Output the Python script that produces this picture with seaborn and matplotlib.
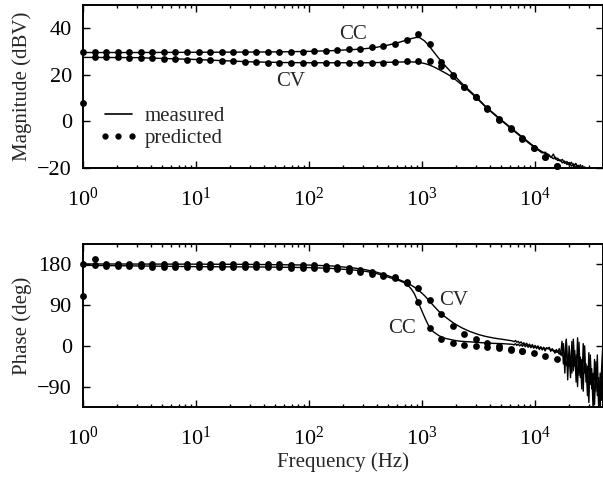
import numpy as np
import matplotlib
matplotlib.use('Agg')
import matplotlib.pyplot as plt
import seaborn as sns
from matplotlib.lines import Line2D

# Style: MATLAB-like bode plot look
sns.set_theme(style='ticks')
plt.rcParams['font.family'] = ['Liberation Serif', 'DejaVu Serif']
plt.rcParams['mathtext.fontset'] = 'custom'
plt.rcParams['mathtext.rm'] = 'Liberation Serif'
plt.rcParams['mathtext.it'] = 'Liberation Serif:italic'
plt.rcParams['font.size'] = 15

# ---- predicted (dots), common frequency grid in Hz ----
pred_freq = [1, 1.265, 1.601, 2.026, 2.564, 3.244, 4.105, 5.195, 6.574, 8.318,
             10.53, 13.32, 16.86, 21.33, 26.99, 34.15, 43.22, 54.69, 69.18, 87.55,
             110.8, 140.2, 177.4, 224.5, 284.1, 359.4, 454.9, 575.4, 728.3, 921.5,
             1166, 1476, 1867, 2362, 2989, 3783, 4786, 6057, 7664, 9698,
             12270, 15530, 19650, 24870, 31470, 39810]

mag_cc_pred = [29.7, 29.7, 29.7, 29.7, 29.7, 29.7, 29.7, 29.7, 29.7, 29.7,
               29.7, 29.7, 29.8, 29.8, 29.9, 29.9, 29.95, 29.95, 30.0, 30.0,
               30.2, 30.3, 30.6, 30.9, 31.2, 31.8, 32.4, 33.2, 35.0, 37.4,
               33.1, 25.7, 19.9, 14.9, 10.6, 5.6, 1.1, -2.9, -7.2, -11.2,
               -15.1, -19.0]
mag_cv_pred = [8.0, 27.5, 27.5, 27.5, 27.4, 27.3, 27.2, 27.0, 26.8, 26.6,
               26.4, 26.2, 26.0, 25.8, 25.6, 25.4, 25.3, 25.2, 25.2, 25.2,
               25.2, 25.2, 25.2, 25.2, 25.2, 25.2, 25.3, 25.5, 25.8, 26.1,
               26.1, 23.9, 19.6, 14.6, 10.3, 5.3, 0.8, -3.2, -7.5, -11.5,
               -15.4, -19.3]

ph_cc_pred = [180, 179, 177, 176.5, 176, 175.5, 175, 175, 174.5, 174.5,
              174.5, 174, 174, 174, 174, 174, 173.5, 173.5, 173, 172.5,
              172, 170.5, 169, 166.5, 163.5, 159.5, 153.5, 149.5, 138, 96,
              39, 14.5, 7, 2, 0, -3, -5, -8, -11, -16,
              -22, -29, -37, -49, -66, -85]
ph_cv_pred = [110, 191, 181, 181, 181, 181, 181, 181, 181, 181,
              181, 181, 181, 181, 180.5, 180.5, 180, 180, 179.5, 179,
              178, 176.5, 174.5, 171.5, 168, 163, 156, 151.5, 141, 127,
              101, 70, 44.5, 26, 15, 5.7, -0.3, -7, -11]

# ---- measured magnitude (lines) ----
mag_freq = [1, 3, 10, 30, 60, 100, 160, 250, 320, 400,
            500, 630, 760, 890, 950, 1050, 1150, 1260, 1410, 1580,
            1860, 2340, 2950, 3720, 4790, 6030, 7590, 8320, 9120, 10000,
            10700, 11500, 12300, 13200, 13800, 14500, 15100, 15800, 16600, 17400,
            18200, 19100, 20000, 20900, 21900, 22900, 24000, 25100, 26300, 27500,
            28800]
mag_cc_meas = [29.6, 29.6, 29.7, 29.8, 29.9, 30.1, 30.4, 30.9, 31.3, 31.9,
               32.8, 34.0, 35.3, 36.1, 36.0, 34.6, 32.5, 30.0, 27.0, 24.2,
               20.5, 15.5, 11.0, 6.0, 1.5, -2.5, -6.5, -8.0, -9.6, -11.0,
               -12.0, -13.0, -13.8, -14.2, -15.5, -14.0, -16.2, -15.8, -17.0, -16.3,
               -18.0, -17.2, -18.8, -17.5, -19.5, -18.0, -20.5, -18.6, -21.0, -19.5,
               -22.0]
mag_cv_meas = [27.5, 27.4, 26.6, 25.6, 25.3, 25.2, 25.2, 25.2, 25.2, 25.3,
               25.4, 25.5, 25.6, 25.5, 25.3, 24.9, 24.3, 23.5, 22.3, 21.0,
               19.0, 15.0, 10.6, 5.8, 1.2, -2.8, -6.8, -8.4, -9.9, -11.3,
               -12.4, -13.5, -13.2, -14.8, -15.2, -16.0, -15.3, -16.8, -16.5, -17.8,
               -17.0, -18.5, -17.6, -19.2, -18.2, -20.0, -18.8, -21.0, -19.0, -21.5,
               -20.2]

# ---- measured phase (lines) ----
ph_freq = [1, 10, 30, 100, 160, 250, 320, 400, 500, 630,
           720, 800, 850, 910, 1000, 1070, 1150, 1260, 1410, 1580,
           1860, 2000, 2240, 2630, 3160, 3630, 4370, 5130,
           6310, 6500, 6690, 6880, 7080, 7290, 7500, 7720, 7940, 8170,
           8410, 8660, 8910, 9170, 9440, 9720, 10000, 10290, 10590, 10900,
           11220, 11550, 11890, 12230, 12590, 12960, 13340, 13730, 14130, 14540,
           14960, 15400, 15850, 16310, 16790, 17280, 17780, 18300, 18840, 19390,
           19950, 20540, 21130, 21750, 22390, 23040, 23710, 24410, 25120, 25850,
           26610, 27380, 28180, 29010, 29850, 30730, 31620, 32540, 33500, 34470,
           35480, 36520, 37580, 38680, 39810]
ph_cc_meas = [178, 175, 174.5, 173, 171, 167.5, 164.5, 159.5, 152, 144,
              138, 126, 116, 100, 76, 59, 43, 31, 22.5, 17,
              13, 11.5, 10, 9, 7.5, 6.5, 5.5, 5.0,
              3.5, 2, 5, 1, 4, 0, 3, -1, 4, -2,
              2, -3, 1, -4, 0, -5, -1, -6, -2, -8,
              -3, -9, -4, -11, -5, -6, -7, -9, -8, -12,
              -10, -14, -12, -18, -14, -22, 5, -60, 15, -45,
              -20, -70, 10, -55, -10, -80, 18, -65, -25, -95,
              5, -60, -40, -110, -15, -85, -50, -140, -30, -100,
              -20, -150, -60, -120, -40]
ph_cv_meas = [181, 180.5, 180, 178.5, 176.5, 172, 168, 162.5, 155, 146,
              140, 134, 130, 125, 116, 109, 100, 89, 76, 65,
              52, 47, 40, 32, 25, 21, 17, 14.5,
              11, 9, 12, 8, 10, 6, 9, 4, 7, 2,
              6, 0, 4, -2, 3, -3, 1, -4, 0, -6,
              -2, -7, -3, -9, -4, -6, -3, -12, -6, -10,
              -16, -8, -14, -6, -20, 10, -40, -15, 12, -75,
              0, -30, -60, 15, -45, -20, -90, 8, -70, -30,
              -100, 0, -80, -45, -125, -20, -95, -60, -130, -35,
              -110, -70, -145, -50, 10]

fig = plt.figure(figsize=(6.03, 4.78), dpi=100)
ax1 = fig.add_axes([0.1376, 0.6485, 0.8624, 0.341])
ax2 = fig.add_axes([0.1376, 0.1485, 0.8624, 0.341])

line_kw = dict(color='black', linewidth=1.0, estimator=None, sort=False, legend=False)
dot_kw = dict(color='black', s=24, linewidth=0, legend=False, clip_on=False, zorder=3)

# Magnitude panel
sns.lineplot(x=mag_freq, y=mag_cc_meas, ax=ax1, **line_kw)
sns.lineplot(x=mag_freq, y=mag_cv_meas, ax=ax1, **line_kw)
sns.scatterplot(x=pred_freq[:len(mag_cc_pred)], y=mag_cc_pred, ax=ax1, **dot_kw)
sns.scatterplot(x=pred_freq[:len(mag_cv_pred)], y=mag_cv_pred, ax=ax1, **dot_kw)

# Phase panel
sns.lineplot(x=ph_freq, y=ph_cc_meas, ax=ax2, **line_kw)
sns.lineplot(x=ph_freq, y=ph_cv_meas, ax=ax2, **line_kw)
sns.scatterplot(x=pred_freq[:len(ph_cc_pred)], y=ph_cc_pred, ax=ax2, **dot_kw)
sns.scatterplot(x=pred_freq[:len(ph_cv_pred)], y=ph_cv_pred, ax=ax2, **dot_kw)

for ax in (ax1, ax2):
    ax.set_xscale('log')
    ax.set_xlim(1, 10 ** 4.6)
    ax.tick_params(which='both', direction='in', top=True, right=True,
                   width=1.0, labelsize=16, colors='black')
    ax.tick_params(which='major', length=5, pad=8)
    ax.tick_params(which='minor', length=2.5)
    ax.tick_params(axis='x', which='major', pad=14)
    for s in ax.spines.values():
        s.set_linewidth(1.4)
        s.set_color('black')
    ax.set_facecolor('white')

ax1.set_ylim(-20, 50)
ax1.set_yticks([-20, 0, 20, 40])
ax2.set_ylim(-135, 225)
ax2.set_yticks([-90, 0, 90, 180])

ax1.set_ylabel('Magnitude (dBV)', fontsize=15)
ax2.set_ylabel('Phase (deg)', fontsize=15)
ax2.set_xlabel('Frequency (Hz)', fontsize=15, labelpad=2)
ax1.yaxis.set_label_coords(-0.098, 0.5)
ax2.yaxis.set_label_coords(-0.098, 0.5)

ax1.text(245, 37.5, 'CC', ha='center', va='center', fontsize=15)
ax1.text(69, 17.0, 'CV', ha='center', va='center', fontsize=15)
ax2.text(1910, 101, 'CV', ha='center', va='center', fontsize=15)
ax2.text(665, 39.5, 'CC', ha='center', va='center', fontsize=15)

handles = [Line2D([], [], color='black', linewidth=1.2),
           Line2D([], [], color='black', marker='o', markersize=3.5, linestyle='none')]
ax1.legend(handles, ['measured', 'predicted'], loc='upper left',
           bbox_to_anchor=(0.03, 0.375), frameon=False, fontsize=15,
           numpoints=3, handlelength=1.9, handletextpad=0.3,
           labelspacing=0.1, borderaxespad=0, borderpad=0)

fig.savefig('out.png', dpi=100, facecolor='white')
